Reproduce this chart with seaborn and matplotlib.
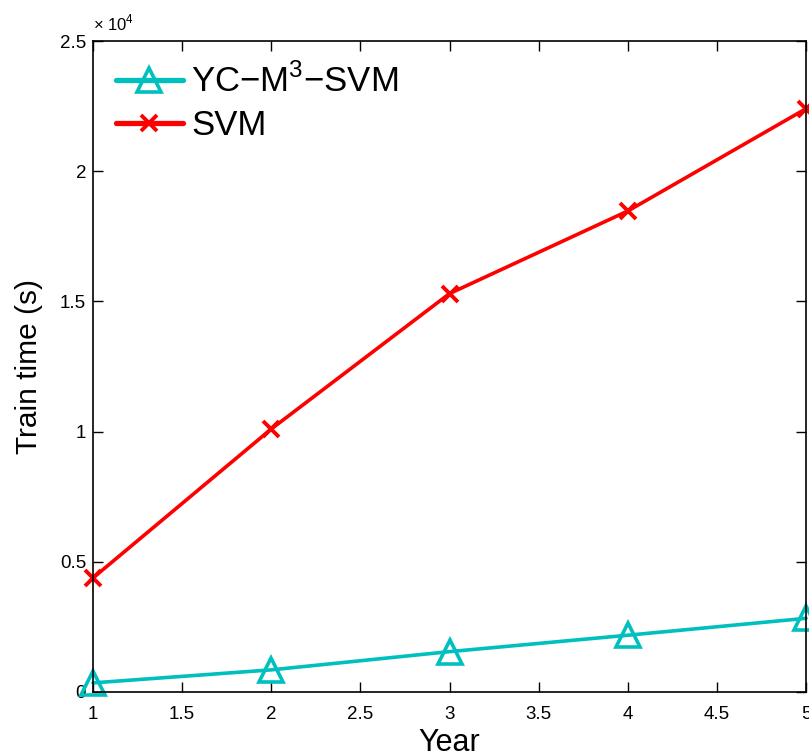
import matplotlib
matplotlib.use("Agg")
import matplotlib.pyplot as plt
from matplotlib.ticker import FuncFormatter, MultipleLocator
import pandas as pd
import seaborn as sns

# Training time of the two classifiers over the years
years = [1, 2, 3, 4, 5]
yc_m3_svm_time = [350, 850, 1550, 2180, 2830]
svm_time = [4380, 10100, 15300, 18470, 22400]
methods = ["YC\u2212M$^3$\u2212SVM", "SVM"]

df = pd.DataFrame({
    "Year": years * 2,
    "Time": yc_m3_svm_time + svm_time,
    "Method": [methods[0]] * len(years) + [methods[1]] * len(years),
})

sns.set_style("ticks")
plt.rcParams["font.family"] = ["Liberation Sans", "DejaVu Sans"]
plt.rcParams["mathtext.fontset"] = "custom"
plt.rcParams["mathtext.rm"] = "Liberation Sans"
plt.rcParams["text.color"] = "black"
plt.rcParams["axes.labelcolor"] = "black"

fig = plt.figure(figsize=(8.09, 7.52), dpi=100)
ax = fig.add_axes([93 / 809, 60 / 752, 713 / 809, 651 / 752])

colors = {methods[0]: "#00BFBF", methods[1]: "#FF0000"}
marker_style = {
    methods[0]: dict(marker="^", markersize=17, markeredgewidth=2.6,
                     markerfacecolor="none"),
    methods[1]: dict(marker="x", markersize=12, markeredgewidth=2.8),
}

for m in methods:
    sub = df[df["Method"] == m]
    sns.lineplot(data=sub, x="Year", y="Time", ax=ax, color=colors[m],
                 linewidth=2.6, markeredgecolor=colors[m], label=m,
                 clip_on=False, **marker_style[m])

ax.set_xlim(1, 5)
ax.set_ylim(0, 25000)
ax.xaxis.set_major_locator(MultipleLocator(0.5))
ax.yaxis.set_major_locator(MultipleLocator(5000))
ax.xaxis.set_major_formatter(FuncFormatter(lambda v, p: f"{v:g}"))
ax.yaxis.set_major_formatter(FuncFormatter(lambda v, p: f"{v / 1e4:g}"))

ax.tick_params(direction="in", length=7, width=1, top=True, right=True,
               labelsize=13.5, colors="black")
ax.tick_params(axis="x", pad=10)
ax.tick_params(axis="y", pad=5)
for s in ax.spines.values():
    s.set_linewidth(1.2)
    s.set_color("black")

ax.set_xlabel("Year", fontsize=22, labelpad=4)
ax.set_ylabel("Train time (s)", fontsize=21.5, labelpad=12)

ax.text(0.0, 1.012, "\u00d7 10$^4$", transform=ax.transAxes, fontsize=12,
        ha="left", va="bottom")

leg = ax.legend(loc="upper left", frameon=False, fontsize=25,
                handlelength=1.95, handletextpad=0.22, borderaxespad=0.3,
                labelspacing=0.3, borderpad=0.35)
for h in leg.get_lines():
    h.set_linewidth(3.8)

fig.savefig("out.png", dpi=100)
